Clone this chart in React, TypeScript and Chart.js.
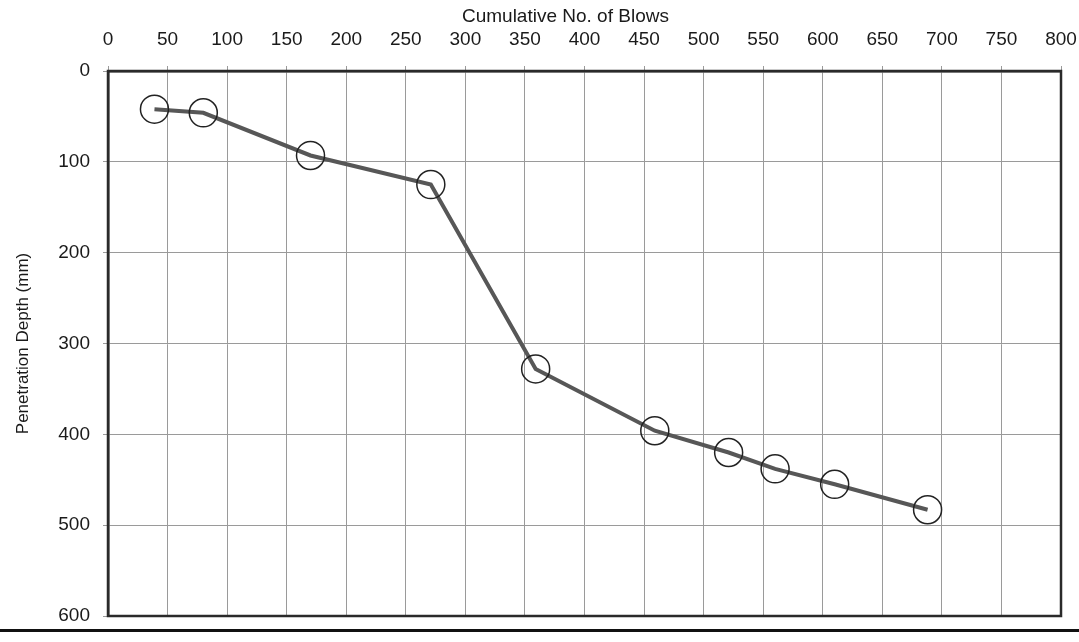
import { useEffect, useRef } from "react";
import { Chart, registerables } from "chart.js";

Chart.register(...registerables);

const blows = [39, 80, 170, 271, 359, 459, 521, 560, 610, 688];
const depth = [42, 46, 93, 125, 328, 396, 420, 438, 455, 483];
const xTitle = "Cumulative No. of Blows";
const yTitle = "Penetration Depth (mm)";

const FONT = '"Liberation Sans", Arial, Helvetica, sans-serif';

export default function App() {
  const ref = useRef<HTMLCanvasElement>(null);

  useEffect(() => {
    const canvas = ref.current;
    if (!canvas) return;
    Chart.defaults.font.family = FONT;

    const frame = {
      id: "frameAndTitle",
      afterDatasetsDraw(chart: any) {
        const c = chart.ctx;
        const a = chart.chartArea;
        c.save();
        c.strokeStyle = "#2a2a2a";
        c.lineWidth = 2.5;
        c.strokeRect(a.left, a.top, a.right - a.left, a.bottom - a.top);
        c.restore();
      },
      afterDraw(chart: any) {
        const c = chart.ctx;
        const a = chart.chartArea;
        c.save();
        c.font = `19px ${FONT}`;
        c.fillStyle = "#1a1a1a";
        c.textAlign = "center";
        c.textBaseline = "middle";
        c.fillText(xTitle, a.left + (a.right - a.left) * 0.48, 17);
        c.restore();
      },
    };

    const chart = new Chart(canvas, {
      type: "line",
      data: {
        datasets: [
          {
            data: blows.map((b, i) => ({ x: b, y: depth[i] })),
            borderColor: "#575757",
            borderWidth: 4,
            pointRadius: 14,
            pointBorderColor: "#222",
            pointBorderWidth: 1.5,
            pointBackgroundColor: "rgba(0,0,0,0)",
            tension: 0,
            fill: false,
          },
        ],
      },
      options: {
        animation: false,
        responsive: true,
        maintainAspectRatio: false,
        layout: { padding: { top: 0, left: 0, right: 0, bottom: 26 } },
        plugins: { legend: { display: false }, tooltip: { enabled: false } },
        scales: {
          x: {
            type: "linear",
            position: "top",
            min: 0,
            max: 800,
            ticks: { stepSize: 50, padding: 15, color: "#1a1a1a", font: { size: 19 } },
            grid: { color: "#9a9a9a", lineWidth: 1, drawTicks: true, tickLength: 5 },
            border: { color: "#2a2a2a", width: 2.5 },
            afterFit(s: any) {
              s.height = 71;
              s.paddingRight = 18;
              s.paddingLeft = 0;
            },
          },
          y: {
            type: "linear",
            min: 0,
            max: 600,
            reverse: true,
            ticks: { stepSize: 100, padding: 13, color: "#1a1a1a", font: { size: 19 } },
            grid: { color: "#9a9a9a", lineWidth: 1, drawTicks: true, tickLength: 5 },
            border: { color: "#2a2a2a", width: 2.5 },
            title: {
              display: true,
              text: yTitle,
              color: "#1a1a1a",
              font: { size: 17 },
              padding: { top: 13, bottom: 0 },
            },
            afterFit(s: any) {
              s.width = 108;
            },
          },
        },
      },
      plugins: [frame],
    });

    return () => chart.destroy();
  }, []);

  return (
    <div
      style={{
        position: "absolute",
        left: 0,
        top: 0,
        width: 1079,
        height: 642,
        background: "#fff",
        overflow: "hidden",
      }}
    >
      <canvas ref={ref} />
      <div
        style={{
          position: "absolute",
          left: 0,
          top: 629,
          width: 1079,
          height: 3,
          background: "#111",
        }}
      />
    </div>
  );
}
